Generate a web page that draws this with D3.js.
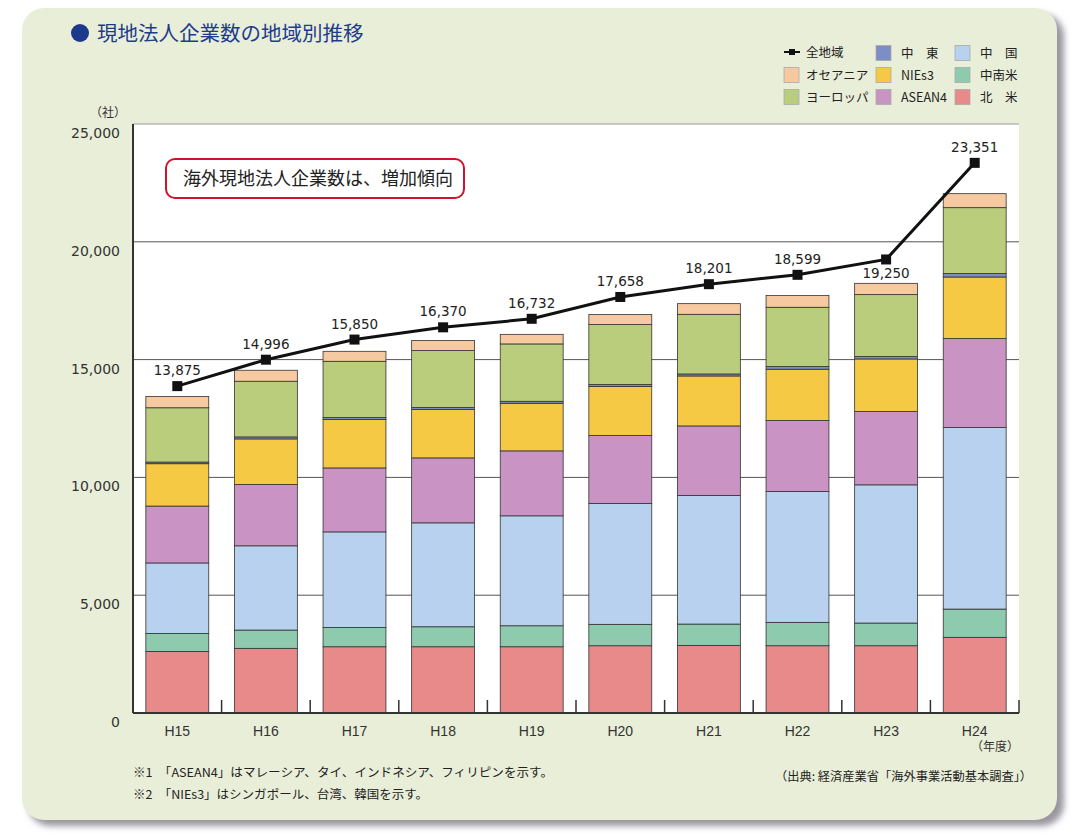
<!DOCTYPE html>
<html><head><meta charset="utf-8">
<script src="https://cdn.jsdelivr.net/npm/d3@7/dist/d3.min.js"></script>
<style>
body{margin:0;background:#fff;}
svg{display:block;}
</style></head>
<body>
<svg id="chart" width="1090" height="837"></svg>
<script>
// ---- data ----
const years = ["H15","H16","H17","H18","H19","H20","H21","H22","H23","H24"];
const totalAll = [13875,14996,15850,16370,16732,17658,18201,18599,19250,23351];
const northAmerica = [2614,2744,2812,2812,2812,2855,2870,2855,2855,3211];
const latinAmerica = [763,776,820,848,891,908,905,993,963,1200];
const china = [2992,3576,4055,4411,4666,5132,5458,5556,5866,7707];
const asean4 = [2415,2604,2715,2757,2757,2884,2952,3011,3113,3775];
const nies3 = [1797,1934,2053,2053,2019,2078,2121,2176,2231,2613];
const middleEast = [70,85,85,85,85,85,85,115,100,144];
const europe = [2305,2362,2388,2418,2435,2545,2531,2515,2630,2799];
const oceania = [479,467,424,424,407,424,453,496,479,594];
const seriesNames = ["北　米","中南米","中　国","ASEAN4","NIEs3","中　東","ヨーロッパ","オセアニア"];
const yTicks = [0,5000,10000,15000,20000,25000];

const seriesValues = [northAmerica, latinAmerica, china, asean4, nies3, middleEast, europe, oceania];
const colors = ["#e98a8a","#8ecbae","#b8d1ee","#c993c4","#f6c945","#7d8dc6","#bacd7d","#f6c9a1"];

const svg = d3.select("#chart");
const jp = "'Noto Sans CJK JP', sans-serif";
const num = "'DejaVu Sans', sans-serif";

// shadow + panel
const defs = svg.append("defs");
const flt = defs.append("filter").attr("id","blur").attr("x","-10%").attr("y","-10%").attr("width","120%").attr("height","120%");
flt.append("feGaussianBlur").attr("stdDeviation",3);
svg.append("rect").attr("x",28).attr("y",14).attr("width",1036).attr("height",812).attr("rx",22)
  .attr("fill","#9a96a0").attr("filter","url(#blur)");
svg.append("rect").attr("x",22).attr("y",8).attr("width",1035).attr("height",812).attr("rx",22)
  .attr("fill","#e9eed8");

// title
svg.append("circle").attr("cx",80).attr("cy",33).attr("r",9).attr("fill","#1b3a8c");
svg.append("text").attr("x",97).attr("y",40.5).attr("font-family",jp).attr("font-size",20.5)
  .attr("fill","#1e3c8c").text("現地法人企業数の地域別推移");

// scales
const pLeft = 133, pRight = 1019, pTop = 124, pBottom = 713;
const x = d3.scaleBand().domain(years).range([pLeft,pRight]).paddingInner(0.29).paddingOuter(0.145);
const y = d3.scaleLinear().domain([0,25000]).range([pBottom,pTop]);

// plot background
svg.append("rect").attr("x",pLeft).attr("y",pTop).attr("width",pRight-pLeft).attr("height",pBottom-pTop).attr("fill","#fff");

// gridlines
svg.append("g").selectAll("line").data(yTicks.filter(d=>d>0)).join("line")
  .attr("x1",pLeft).attr("x2",pRight).attr("y1",d=>y(d)).attr("y2",d=>y(d))
  .attr("stroke",d=>d===25000?"#9a9a9a":"#555").attr("stroke-width",1);

// y labels
svg.append("g").selectAll("text").data(yTicks).join("text")
  .attr("x",120).attr("y",d=>y(d)+14).attr("text-anchor","end")
  .attr("font-family",num).attr("font-size",14).attr("fill","#333")
  .text(d=>d3.format(",")(d));
svg.append("text").attr("x",126).attr("y",117).attr("text-anchor","end")
  .attr("font-family",jp).attr("font-size",12).attr("fill","#333").text("（社）");

// stacked bars
const rows = years.map((yr,i)=>{const o={year:yr}; seriesValues.forEach((s,k)=>o["s"+k]=s[i]); return o;});
const keys = seriesValues.map((s,k)=>"s"+k);
const stacked = d3.stack().keys(keys)(rows);
svg.append("g").selectAll("g").data(stacked).join("g")
  .attr("fill",(d,k)=>colors[k])
  .selectAll("rect").data(d=>d).join("rect")
  .attr("x",d=>x(d.data.year)).attr("width",x.bandwidth())
  .attr("y",d=>y(d[1])).attr("height",d=>y(d[0])-y(d[1]))
  .attr("stroke","#333").attr("stroke-width",0.8);

// axes lines
svg.append("line").attr("x1",pLeft).attr("x2",pLeft).attr("y1",pTop).attr("y2",pBottom)
  .attr("stroke","#333").attr("stroke-width",2);
svg.append("line").attr("x1",pLeft).attr("x2",pRight).attr("y1",pBottom).attr("y2",pBottom)
  .attr("stroke","#333").attr("stroke-width",2);
const step = x.step();
svg.append("g").selectAll("line").data(years).join("line")
  .attr("x1",d=>x(d)+x.bandwidth()+step*0.145).attr("x2",d=>x(d)+x.bandwidth()+step*0.145)
  .attr("y1",pBottom).attr("y2",pBottom-13).attr("stroke","#333").attr("stroke-width",1.5);

// x labels
svg.append("g").selectAll("text").data(years).join("text")
  .attr("x",d=>x(d)+x.bandwidth()/2).attr("y",736).attr("text-anchor","middle")
  .attr("font-family","'Liberation Sans Narrow', 'Liberation Sans', sans-serif").attr("font-size",14)
  .attr("fill","#333").text(d=>d);
svg.append("text").attr("x",1019).attr("y",751).attr("text-anchor","end")
  .attr("font-family",jp).attr("font-size",12).attr("fill","#333").text("（年度）");

// total line
const cx = d=>x(d)+x.bandwidth()/2;
const line = d3.line().x((d,i)=>cx(years[i])).y(d=>y(d));
svg.append("path").datum(totalAll).attr("d",line).attr("fill","none")
  .attr("stroke","#111").attr("stroke-width",3);
svg.append("g").selectAll("rect").data(totalAll).join("rect")
  .attr("x",(d,i)=>cx(years[i])-5).attr("y",d=>y(d)-5).attr("width",10).attr("height",10).attr("fill","#111");
svg.append("g").selectAll("text").data(totalAll).join("text")
  .attr("x",(d,i)=>cx(years[i])).attr("y",(d,i)=>i===8?y(d)+19:y(d)-11)
  .attr("text-anchor","middle").attr("font-family",num).attr("font-size",13.5).attr("fill","#222")
  .text(d=>d3.format(",")(d));

// annotation box
svg.append("rect").attr("x",166).attr("y",159).attr("width",298).attr("height",39).attr("rx",9)
  .attr("fill","#fff").attr("stroke","#d0122c").attr("stroke-width",2);
svg.append("text").attr("x",183).attr("y",185).attr("font-family",jp).attr("font-size",18)
  .attr("fill","#222").text("海外現地法人企業数は、増加傾向");

// legend
const lg = svg.append("g").attr("font-family",jp).attr("font-size",12.5).attr("fill","#222");
lg.append("line").attr("x1",784).attr("x2",800).attr("y1",52).attr("y2",52).attr("stroke","#111").attr("stroke-width",2);
lg.append("rect").attr("x",789).attr("y",49).attr("width",6).attr("height",6).attr("fill","#111");
lg.append("text").attr("x",806).attr("y",57).text("全地域");
const legendItems = [
  {k:7,x:784,y:75},{k:6,x:784,y:97},
  {k:5,x:876,y:53},{k:4,x:876,y:75},{k:3,x:876,y:97},
  {k:2,x:955,y:53},{k:1,x:955,y:75},{k:0,x:955,y:97}
];
legendItems.forEach(it=>{
  lg.append("rect").attr("x",it.x).attr("y",it.y-7.5).attr("width",15).attr("height",15)
    .attr("fill",colors[it.k]).attr("stroke","#aaa").attr("stroke-width",0.8);
  lg.append("text").attr("x",it.x+(it.x===784?22:25)).attr("y",it.y+5).text(seriesNames[it.k]);
});

// footnotes
const fn = svg.append("g").attr("font-family",jp).attr("font-size",12).attr("fill","#222");
fn.append("text").attr("x",133).attr("y",777).attr("textLength",420).attr("lengthAdjust","spacingAndGlyphs")
  .text("※1　「ASEAN4」はマレーシア、タイ、インドネシア、フィリピンを示す。");
fn.append("text").attr("x",133).attr("y",799).attr("textLength",295).attr("lengthAdjust","spacingAndGlyphs")
  .text("※2　「NIEs3」はシンガポール、台湾、韓国を示す。");
fn.append("text").attr("x",775).attr("y",781).attr("textLength",257).attr("lengthAdjust","spacingAndGlyphs")
  .text("（出典: 経済産業省「海外事業活動基本調査」）");
</script>
</body></html>
